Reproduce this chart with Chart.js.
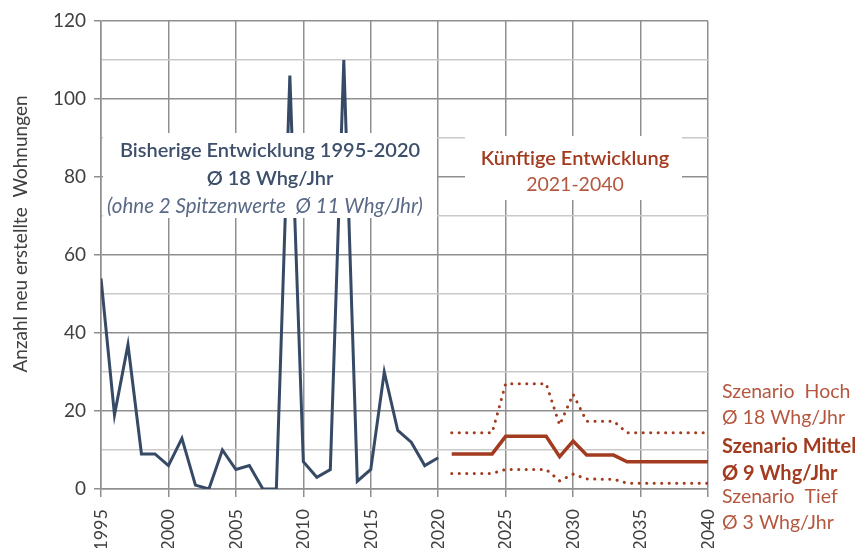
<!DOCTYPE html>
<html><head><meta charset="utf-8">
<script src="https://cdn.jsdelivr.net/npm/chart.js@4"></script>
<style>html,body{margin:0;padding:0;background:#fff;}canvas{display:block;}</style>
</head><body>
<canvas id="c" width="864" height="548"></canvas>
<script>
const histYears = [1995,1996,1997,1998,1999,2000,2001,2002,2003,2004,2005,2006,2007,2008,2009,2010,2011,2012,2013,2014,2015,2016,2017,2018,2019,2020];
const histValues = [54,19,37,9,9,6,13,1,0,10,5,6,0,0,106,7,3,5,110,2,5,30,15,12,6,8];
const futureYears = [2021,2022,2023,2024,2025,2026,2027,2028,2029,2030,2031,2032,2033,2034,2035,2036,2037,2038,2039,2040];
const scenHoch   = [14.4,14.4,14.4,14.4,27,27,27,27,16.4,24.3,17.4,17.4,17.4,14.4,14.4,14.4,14.4,14.4,14.4,14.4];
const scenMittel = [9,9,9,9,13.5,13.5,13.5,13.5,8.3,12.3,8.7,8.7,8.7,7,7,7,7,7,7,7];
const scenTief   = [4,4,4,4,5,5,5,5,2.1,3.8,2.6,2.5,2.5,1.5,1.5,1.5,1.5,1.5,1.5,1.5];
const xTicks = [1995,2000,2005,2010,2015,2020,2025,2030,2035,2040];
const yTitle = 'Anzahl neu erstellte  Wohnungen';

const FONT = 'Lato, Carlito, "Open Sans", sans-serif';
const BLUE = '#364a66';
const RUST = '#a23b1f';
const RUST_L = '#b5573f';
const GRID = '#8f8f8f';
const GRID_MINOR = '#c9c9c9';

const pts = (xs, ys) => xs.map((x, i) => ({x: x, y: ys[i]}));

const overlay = {
  id: 'overlay',
  afterDatasetsDraw(chart) {
    const ctx = chart.ctx;
    ctx.save();
    ctx.fillStyle = '#ffffff';
    ctx.fillRect(103, 133, 334, 85);
    ctx.fillRect(465, 136, 217, 64);
    ctx.textAlign = 'center';
    ctx.textBaseline = 'middle';
    ctx.fillStyle = '#3d4f6b';
    ctx.font = '600 20px ' + FONT;
    ctx.fillText('Bisherige Entwicklung 1995-2020', 270, 151);
    ctx.fillText('\u00D8 18 Whg/Jhr', 270, 179);
    ctx.fillStyle = '#5a6a86';
    ctx.font = 'italic 20.5px ' + FONT;
    ctx.fillText('(ohne 2 Spitzenwerte  \u00D8 11 Whg/Jhr)', 265, 206);
    ctx.fillStyle = RUST;
    ctx.font = '600 20px ' + FONT;
    ctx.fillText('K\u00FCnftige Entwicklung', 575, 159);
    ctx.fillStyle = RUST_L;
    ctx.font = '19.5px ' + FONT;
    ctx.fillText('2021-2040', 575, 185);
    ctx.textAlign = 'left';
    ctx.fillStyle = RUST_L;
    ctx.font = '19.5px ' + FONT;
    ctx.fillText('Szenario  Hoch', 722, 392);
    ctx.fillText('\u00D8 18 Whg/Jhr', 722, 418);
    ctx.fillStyle = RUST;
    ctx.font = 'bold 20px ' + FONT;
    ctx.fillText('Szenario Mittel', 722, 447);
    ctx.fillText('\u00D8 9 Whg/Jhr', 722, 474);
    ctx.fillStyle = RUST_L;
    ctx.font = '19.5px ' + FONT;
    ctx.fillText('Szenario  Tief', 722, 497);
    ctx.fillText('\u00D8 3 Whg/Jhr', 722, 523);
    ctx.save();
    ctx.translate(21, 234);
    ctx.rotate(-Math.PI / 2);
    ctx.textAlign = 'center';
    ctx.fillStyle = '#404040';
    ctx.font = '19px ' + FONT;
    ctx.fillText(yTitle, 0, 0);
    ctx.restore();
    ctx.restore();
  }
};

new Chart(document.getElementById('c'), {
  type: 'line',
  data: {
    datasets: [
      {label: 'Bisher', data: pts(histYears, histValues), borderColor: BLUE, borderWidth: 3, pointRadius: 0, tension: 0, borderJoinStyle: 'miter'},
      {label: 'Hoch', data: pts(futureYears, scenHoch), borderColor: RUST, borderWidth: 3, pointRadius: 0, tension: 0, borderDash: [0.1, 7.4], borderCapStyle: 'round'},
      {label: 'Mittel', data: pts(futureYears, scenMittel), borderColor: RUST, borderWidth: 3.5, pointRadius: 0, tension: 0},
      {label: 'Tief', data: pts(futureYears, scenTief), borderColor: RUST, borderWidth: 3, pointRadius: 0, tension: 0, borderDash: [0.1, 7.4], borderCapStyle: 'round'}
    ]
  },
  options: {
    responsive: false,
    animation: false,
    devicePixelRatio: 1,
    layout: {padding: {left: 0, right: 156, top: 21, bottom: 0}},
    plugins: {legend: {display: false}, tooltip: {enabled: false}},
    scales: {
      x: {
        type: 'linear', min: 1995, max: 2040,
        afterBuildTicks: (s) => { s.ticks = xTicks.map(v => ({value: v})); },
        afterFit: (s) => { s.height = 59; },
        ticks: {autoSkip: false, minRotation: 90, maxRotation: 90, padding: 12, color: '#404040', font: {family: FONT, size: 18}, callback: (v) => String(v)},
        grid: {color: GRID, lineWidth: 1.5, tickLength: 8, tickColor: GRID, tickWidth: 1.5},
        border: {display: true, color: GRID, width: 1.5}
      },
      y: {
        min: 0, max: 120,
        ticks: {stepSize: 10, padding: 8, color: '#404040', font: {family: FONT, size: 19}, callback: (v) => (v % 20 === 0 ? String(v) : '')},
        afterFit: (s) => { s.width = 101; },
        grid: {
          color: (c) => (c.tick && c.tick.value % 20 === 0 ? GRID : GRID_MINOR),
          tickColor: (c) => (c.tick && c.tick.value % 20 === 0 ? GRID : 'rgba(0,0,0,0)'),
          lineWidth: 1.5, tickLength: 7, tickWidth: 1.5
        },
        border: {display: true, color: GRID, width: 1.5}
      }
    }
  },
  plugins: [overlay]
});
</script>
</body></html>
